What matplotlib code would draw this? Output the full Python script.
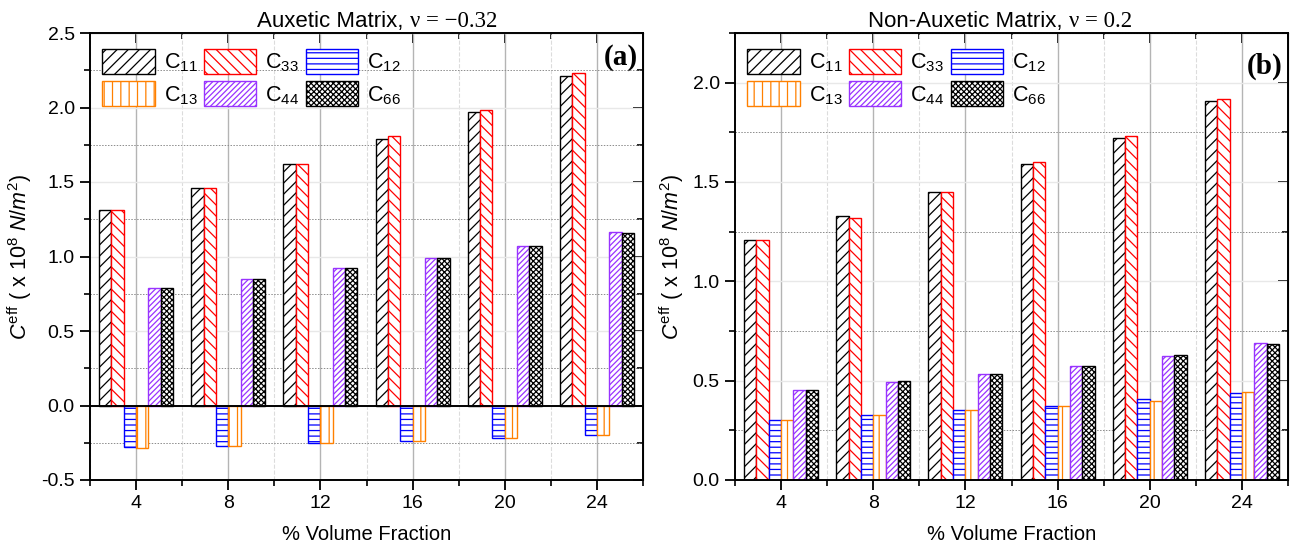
import matplotlib
matplotlib.use("Agg")
import matplotlib.pyplot as plt
from matplotlib.patches import Patch
from matplotlib.ticker import MultipleLocator
import numpy as np

plt.rcParams['font.family'] = ['Liberation Sans', 'DejaVu Sans']
plt.rcParams['mathtext.fontset'] = 'custom'
plt.rcParams['mathtext.rm'] = 'Liberation Sans'
plt.rcParams['mathtext.it'] = 'Liberation Sans:italic'
plt.rcParams['axes.unicode_minus'] = False
plt.rcParams['hatch.linewidth'] = 0.9

# data
vol = [4, 8, 12, 16, 20, 24]
names = ['C11', 'C33', 'C12', 'C13', 'C44', 'C66']

aux = {
    'C11': [1.31, 1.46, 1.62, 1.79, 1.97, 2.21],
    'C33': [1.31, 1.46, 1.62, 1.81, 1.98, 2.23],
    'C12': [-0.28, -0.27, -0.25, -0.235, -0.215, -0.20],
    'C13': [-0.285, -0.27, -0.25, -0.235, -0.215, -0.20],
    'C44': [0.79, 0.85, 0.92, 0.99, 1.07, 1.165],
    'C66': [0.79, 0.85, 0.92, 0.99, 1.07, 1.155],
}
nonaux = {
    'C11': [1.21, 1.33, 1.45, 1.59, 1.72, 1.91],
    'C33': [1.21, 1.32, 1.45, 1.60, 1.73, 1.92],
    'C12': [0.30, 0.325, 0.35, 0.375, 0.41, 0.44],
    'C13': [0.30, 0.325, 0.35, 0.375, 0.40, 0.445],
    'C44': [0.453, 0.492, 0.535, 0.575, 0.625, 0.69],
    'C66': [0.455, 0.496, 0.535, 0.575, 0.63, 0.685],
}

styles = {
    'C11': dict(edgecolor='black', hatch='///'),
    'C33': dict(edgecolor='red', hatch='\\\\\\'),
    'C12': dict(edgecolor='#0000ff', hatch='---'),
    'C13': dict(edgecolor='#ff8000', hatch='||'),
    'C44': dict(edgecolor='#9933ff', hatch='//////'),
    'C66': dict(edgecolor='black', hatch='xxxxxx'),
}
labels = {n: 'C$_{%s}$' % n[1:] for n in names}
# legend fills column-wise -> rows C11 C33 C12 / C13 C44 C66
legend_order = ['C11', 'C13', 'C33', 'C44', 'C12', 'C66']

W, H = 1301, 551
fig = plt.figure(figsize=(W / 100, H / 100), dpi=100)


def style_axes(ax, ylim, ymajor):
    ax.set_xlim(2, 26)
    ax.set_ylim(*ylim)
    ax.set_xticks(vol)
    ax.xaxis.set_minor_locator(MultipleLocator(2))
    ax.yaxis.set_major_locator(MultipleLocator(ymajor))
    ax.yaxis.set_minor_locator(MultipleLocator(ymajor / 2))
    ax.set_axisbelow(True)
    ax.grid(which='major', axis='x', color='#b4b4b4', lw=1.0)
    ax.grid(which='minor', axis='x', color='#dcdcdc', ls='--', lw=0.8)
    ax.grid(which='major', axis='y', color='#e8e8e8', lw=1.0)
    ax.grid(which='minor', axis='y', color='#8c8c8c', ls=(0, (1.5, 1.5)), lw=0.7)
    ax.tick_params(which='major', direction='out', length=7, width=1.3,
                   labelsize=14, colors='black', pad=4)
    ax.tick_params(which='minor', direction='out', length=4, width=1.2)
    for s in ax.spines.values():
        s.set_linewidth(1.4)
    top = ax.secondary_xaxis('top')
    top.set_xticks(vol)
    top.xaxis.set_minor_locator(MultipleLocator(2))
    top.tick_params(which='major', direction='in', length=7, width=1.3, labeltop=False)
    top.tick_params(which='minor', direction='in', length=4, width=1.2)
    right = ax.secondary_yaxis('right')
    right.yaxis.set_major_locator(MultipleLocator(ymajor))
    right.yaxis.set_minor_locator(MultipleLocator(ymajor / 2))
    right.tick_params(which='major', direction='in', length=7, width=1.3, labelright=False)
    right.tick_params(which='minor', direction='in', length=4, width=1.2)
    ax.set_xlabel('% Volume Fraction', fontsize=14.5, labelpad=9)
    ax.set_ylabel(r'$C^{\rm eff}$ ( x 10$^{8}$ $N/m^{2}$)', fontsize=15.5, labelpad=5)


def draw(ax, data):
    w = 0.535
    x = np.array(vol, dtype=float)
    for i, n in enumerate(names):
        ax.bar(x + (i - 2.5) * w, data[n], width=w, facecolor='white',
               linewidth=1.0, **styles[n])
    handles = [Patch(facecolor='white', linewidth=1.0, label=labels[n], **styles[n])
               for n in legend_order]
    ax.legend(handles=handles, ncol=3, loc='upper left', frameon=False,
              bbox_to_anchor=(0.022, 0.965), borderaxespad=0, borderpad=0,
              fontsize=15.5, handlelength=2.45, handleheight=1.4,
              handletextpad=0.4, columnspacing=0.3, labelspacing=0.35)


bot = (H - 480) / H
hgt = 447 / H
ax1 = fig.add_axes([90 / W, bot, 553 / W, hgt])
ax2 = fig.add_axes([735 / W, bot, 553 / W, hgt])

draw(ax1, aux)
style_axes(ax1, (-0.5, 2.5), 0.5)
ax1.axhline(0, color='black', lw=1.4)

draw(ax2, nonaux)
style_axes(ax2, (0, 2.25), 0.5)

ax1.text(0.99, 0.975, '(a)', transform=ax1.transAxes, ha='right', va='top',
         fontsize=21, fontweight='bold', family='Liberation Serif')
ax2.text(0.99, 0.955, '(b)', transform=ax2.transAxes, ha='right', va='top',
         fontsize=21, fontweight='bold', family='Liberation Serif')

# titles: sans part followed by a serif part
t1 = fig.text(257 / W, (H - 27) / H, 'Auxetic Matrix, ', fontsize=16,
              ha='left', va='baseline')
t2 = fig.text(868 / W, (H - 27) / H, 'Non-Auxetic Matrix, ', fontsize=16,
              ha='left', va='baseline')

fig.canvas.draw()
r = fig.canvas.get_renderer()
for t, s in [(t1, '\u03bd = \u22120.32'), (t2, '\u03bd = 0.2')]:
    bb = t.get_window_extent(r)
    fig.text(bb.x1 / fig.bbox.width, (H - 27) / H, s, fontsize=16.5,
             family='Liberation Serif', ha='left', va='baseline')

fig.savefig('out.png', dpi=100)
